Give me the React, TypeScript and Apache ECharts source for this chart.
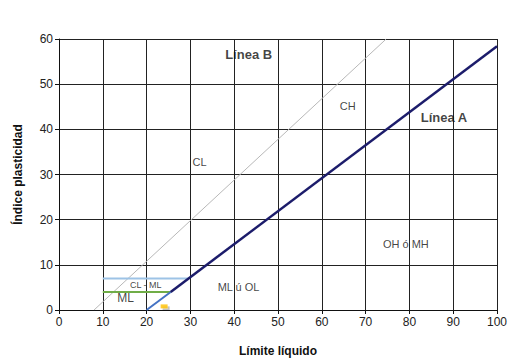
import React, { useEffect, useRef } from "react";
import * as echarts from "echarts";

const xTicks = [0, 100];
const yTicks = [0, 60];
const lineA: [number, number][] = [[25.5, 4], [100, 58.4]];
const lineAStart: [number, number][] = [[20, 0], [25.5, 4]];
const lineB: [number, number][] = [[8, 0], [74.7, 60]];
const clmlTop: [number, number][] = [[10, 7], [29.6, 7]];
const clmlBottom: [number, number][] = [[10, 4], [25.5, 4]];
const samplePoint: [number, number][] = [[24, 0.8]];
const regionLabels = ["Línea B", "Línea A", "CH", "CL", "OH ó MH", "ML ú OL", "CL - ML", "ML"];
const regionX = [43.3, 87.9, 65.9, 32.1, 79.2, 41.0, 19.8, 15.2];
const regionY = [56.5, 42.7, 45.1, 32.8, 14.7, 5.0, 5.5, 2.6];
const regionBold = [true, true, false, false, false, false, false, false];
const regionSize = [13, 13, 11, 11, 11, 11, 9, 12];

const FONT = "Liberation Sans, Arial, sans-serif";

export default function App() {
  const ref = useRef<HTMLDivElement>(null);
  useEffect(() => {
    document.body.style.margin = "0";
    const chart = echarts.init(ref.current!, undefined, { renderer: "svg" });
    const lineSeries = (data: [number, number][], color: string, width: number, z = 3) => ({
      type: "line",
      data,
      symbol: "none",
      lineStyle: { color, width },
      z,
      silent: true,
    });
    chart.setOption({
      animation: false,
      backgroundColor: "#ffffff",
      textStyle: { fontFamily: FONT },
      grid: { left: 59, right: 16, top: 39, bottom: 49 },
      xAxis: {
        type: "value",
        min: xTicks[0],
        max: xTicks[1],
        interval: 10,
        name: "Límite líquido",
        nameLocation: "middle",
        nameGap: 35,
        nameTextStyle: { fontWeight: "bold", fontSize: 12, color: "#111", fontFamily: FONT },
        axisLine: { lineStyle: { color: "#111", width: 1 } },
        axisTick: { show: true, length: 4, lineStyle: { color: "#111" } },
        axisLabel: { color: "#222", fontSize: 12, fontFamily: FONT, margin: 6 },
        splitLine: { show: true, lineStyle: { color: "#222", width: 1 } },
      },
      yAxis: {
        type: "value",
        min: yTicks[0],
        max: yTicks[1],
        interval: 10,
        name: "Índice plasticidad",
        nameLocation: "middle",
        nameGap: 35,
        nameTextStyle: { fontWeight: "bold", fontSize: 12, color: "#111", fontFamily: FONT },
        axisLine: { show: true, lineStyle: { color: "#111", width: 1 } },
        axisTick: { show: true, length: 4, lineStyle: { color: "#111" } },
        axisLabel: { color: "#222", fontSize: 12, fontFamily: FONT, margin: 6 },
        splitLine: { show: true, lineStyle: { color: "#222", width: 1 } },
      },
      series: [
        lineSeries(lineB, "#b8b8b8", 1, 2),
        lineSeries(clmlTop, "#9dc3e6", 2),
        lineSeries(clmlBottom, "#70ad47", 2),
        lineSeries(lineAStart, "#4472c4", 2),
        lineSeries(lineA, "#1c1c6b", 2.5, 4),
        {
          type: "scatter",
          data: samplePoint,
          symbol: "rect",
          symbolSize: [7, 4],
          itemStyle: {
            color: "#ffc000",
            shadowColor: "rgba(0,0,0,0.3)",
            shadowBlur: 1,
            shadowOffsetX: 2,
            shadowOffsetY: 2,
          },
          z: 5,
          silent: true,
        },
        {
          type: "scatter",
          symbolSize: 1,
          itemStyle: { color: "rgba(0,0,0,0)" },
          silent: true,
          z: 6,
          label: {
            show: true,
            position: "inside",
            formatter: "{b}",
            color: "#111111",
            fontFamily: FONT,
          },
          data: regionLabels.map((t, i) => ({
            name: t,
            value: [regionX[i], regionY[i]],
            label: {
              fontSize: regionSize[i],
              fontWeight: regionBold[i] ? "bold" : "normal",
              color: "#111111",
            },
          })),
        },
      ],
    });
    return () => chart.dispose();
  }, []);
  return <div ref={ref} style={{ width: 513, height: 362 }} />;
}
